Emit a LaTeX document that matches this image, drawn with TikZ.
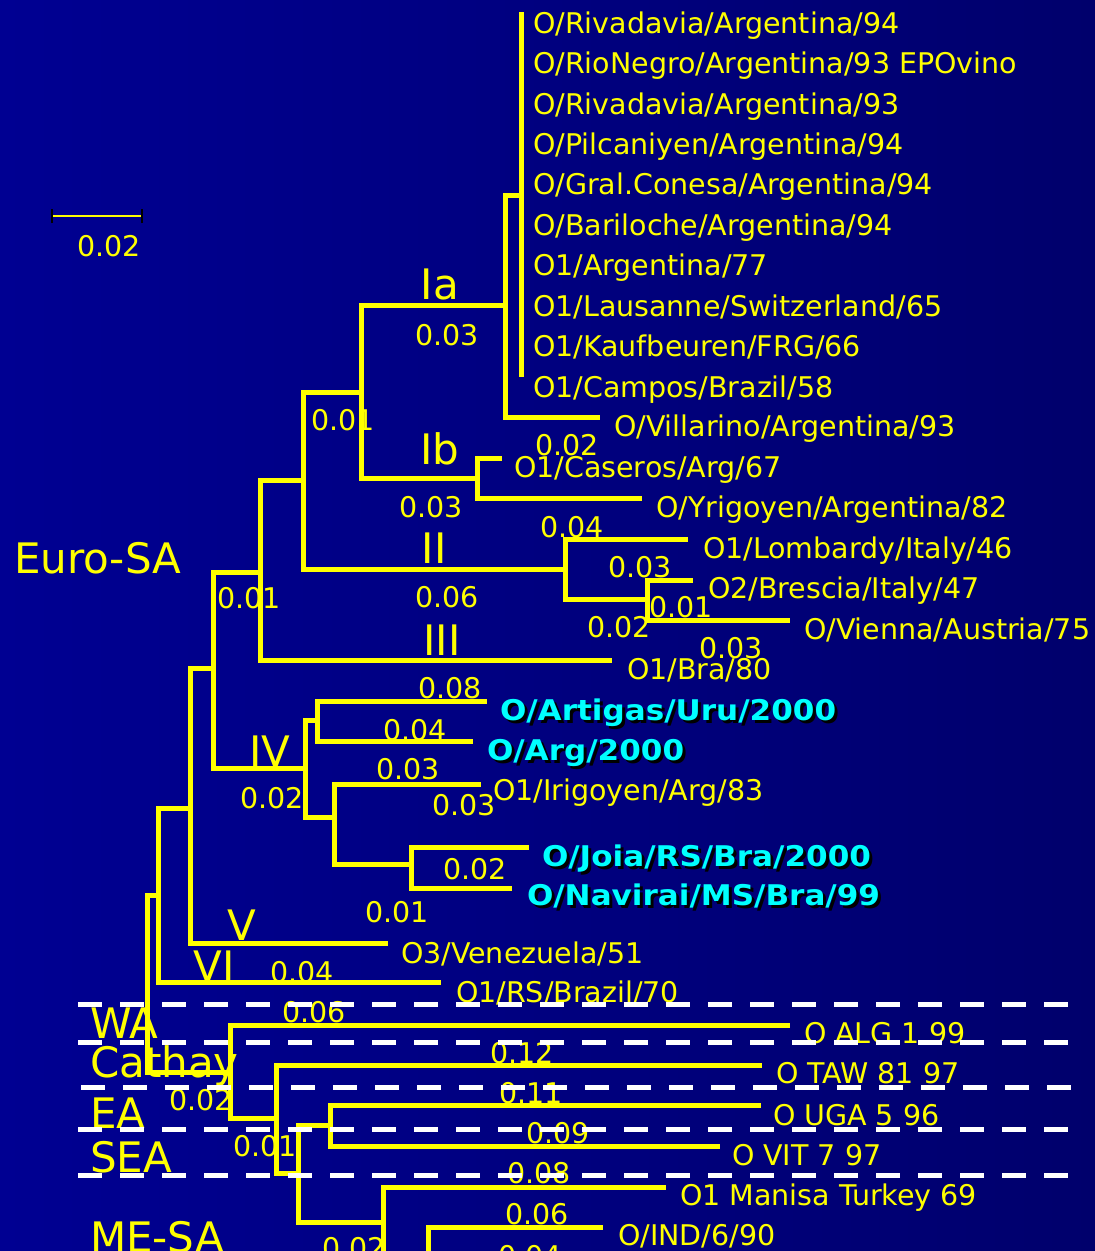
\documentclass[tikz,border=0pt]{standalone}
\usepackage{fontspec}
\setmainfont{DejaVu Sans}
\newfontfamily\boldcy{DejaVu Sans}[FakeStretch=1.09]
\definecolor{yel}{RGB}{255,255,0}
\definecolor{cy}{RGB}{0,255,255}
\definecolor{bgl}{RGB}{0,0,146}
\definecolor{bgr}{RGB}{0,0,108}
\newcommand\taxfont{\fontsize{28.5}{30}\selectfont}
\newcommand\cladefont{\fontsize{42}{44}\selectfont}
\newcommand\cyshad[1]{{\boldcy\bfseries\rlap{\kern3pt\raisebox{-3pt}{\textcolor{black}{#1}}}\textcolor{cy}{#1}}}
\tikzset{
  br/.style={draw=yel, line width=5pt, line join=miter},
  tax/.style={anchor=base west, inner sep=0pt, outer sep=0pt, text=yel, font=\taxfont},
  ctax/.style={anchor=base west, inner sep=0pt, outer sep=0pt, font=\taxfont},
  num/.style={anchor=base, inner sep=0pt, outer sep=0pt, text=yel, font=\taxfont},
  clade/.style={anchor=base, inner sep=0pt, outer sep=0pt, text=yel, font=\cladefont},
  region/.style={anchor=base west, inner sep=0pt, outer sep=0pt, text=yel, font=\cladefont},
  wdash/.style={draw=white, line width=5pt, dash pattern=on 24pt off 18pt},
}
\begin{document}
\begin{tikzpicture}[x=1pt,y=-1pt]
\useasboundingbox (0,0) rectangle (1095,1251);
\shade[left color=bgl, right color=bgr] (0,0) rectangle (1095,1251);
\clip (0,0) rectangle (1095,1251);

% internal nodes
\coordinate (R) at (147,983);
\coordinate (E1) at (158,895);
\coordinate (E2) at (190,808);
\coordinate (E3) at (213,668);
\coordinate (E4) at (260,572);
\coordinate (E5) at (303,480);
\coordinate (E6) at (361,392);
\coordinate (Ia) at (505,305);
\coordinate (Pol) at (521,195);
\coordinate (PolT) at (521,12);
\coordinate (PolB) at (521,377);
\coordinate (Ib) at (477,478);
\coordinate (II) at (565,569);
\coordinate (IIb) at (647,599);
\coordinate (IV) at (305,768);
\coordinate (IVa) at (317,720);
\coordinate (IVb) at (334,817);
\coordinate (IVc) at (411,864);
\coordinate (A1) at (230,1072);
\coordinate (A2) at (276,1118);
\coordinate (A3) at (298,1173);
\coordinate (A4) at (330,1125);
\coordinate (A5) at (383,1222);
\coordinate (A6) at (428,1290);
% tips
\coordinate (tVil) at (600,417);
\coordinate (tCas) at (502,458);
\coordinate (tYri) at (642,498);
\coordinate (tLom) at (688,539);
\coordinate (tBre) at (693,580);
\coordinate (tVie) at (790,620);
\coordinate (tBra) at (612,660);
\coordinate (tArt) at (487,701);
\coordinate (tArg) at (473,741);
\coordinate (tIri) at (481,784);
\coordinate (tJoi) at (529,847);
\coordinate (tNav) at (512,888);
\coordinate (tVen) at (388,943);
\coordinate (tRS) at (441,982);
\coordinate (tALG) at (790,1025);
\coordinate (tTAW) at (762,1065);
\coordinate (tUGA) at (761,1105);
\coordinate (tVIT) at (720,1146);
\coordinate (tMan) at (666,1187);
\coordinate (tIND) at (603,1227);
\coordinate (tLow) at (520,1300);

% branches
\draw[br] (R) |- (E1);  \draw[br] (R) |- (A1);
\draw[br] (E1) |- (E2); \draw[br] (E1) |- (tRS);
\draw[br] (E2) |- (E3); \draw[br] (E2) |- (tVen);
\draw[br] (E3) |- (E4); \draw[br] (E3) |- (IV);
\draw[br] (E4) |- (E5); \draw[br] (E4) |- (tBra);
\draw[br] (E5) |- (E6); \draw[br] (E5) |- (II);
\draw[br] (E6) |- (Ia); \draw[br] (E6) |- (Ib);
\draw[br] (Ia) |- (Pol); \draw[br] (Ia) |- (tVil);
\draw[br] (PolT) -- (PolB);
\draw[br] (Ib) |- (tCas); \draw[br] (Ib) |- (tYri);
\draw[br] (II) |- (tLom); \draw[br] (II) |- (IIb);
\draw[br] (IIb) |- (tBre); \draw[br] (IIb) |- (tVie);
\draw[br] (IV) |- (IVa); \draw[br] (IV) |- (IVb);
\draw[br] (IVa) |- (tArt); \draw[br] (IVa) |- (tArg);
\draw[br] (IVb) |- (tIri); \draw[br] (IVb) |- (IVc);
\draw[br] (IVc) |- (tJoi); \draw[br] (IVc) |- (tNav);
\draw[br] (A1) |- (tALG); \draw[br] (A1) |- (A2);
\draw[br] (A2) |- (tTAW); \draw[br] (A2) |- (A3);
\draw[br] (A3) |- (A4); \draw[br] (A3) |- (A5);
\draw[br] (A4) |- (tUGA); \draw[br] (A4) |- (tVIT);
\draw[br] (A5) |- (tMan); \draw[br] (A5) |- (A6);
\draw[br] (A6) |- (tIND); \draw[br] (A6) |- (tLow);

% scale bar
\coordinate (sb1) at (52,216);
\coordinate (sb2) at (142,216);
\draw[yel, line width=2pt] (sb1) -- (sb2);
\draw[black, line width=1.2pt] ([yshift=-7pt]sb1) -- ([yshift=7pt]sb1);
\draw[black, line width=1.2pt] ([yshift=-7pt]sb2) -- ([yshift=7pt]sb2);
\node[num] (sbl) at (109,256) {0.02};

% taxa
\node[tax] (x1) at (533,33) {O/Rivadavia/Argentina/94};
\node[tax] (x2) at (533,73) {O/RioNegro/Argentina/93 EPOvino};
\node[tax] (x3) at (533,114) {O/Rivadavia/Argentina/93};
\node[tax] (x4) at (533,154) {O/Pilcaniyen/Argentina/94};
\node[tax] (x5) at (533,194) {O/Gral.Conesa/Argentina/94};
\node[tax] (x6) at (533,235) {O/Bariloche/Argentina/94};
\node[tax] (x7) at (533,275) {O1/Argentina/77};
\node[tax] (x8) at (533,316) {O1/Lausanne/Switzerland/65};
\node[tax] (x9) at (533,356) {O1/Kaufbeuren/FRG/66};
\node[tax] (x10) at (533,397) {O1/Campos/Brazil/58};
\node[tax] (x11) at (614,436) {O/Villarino/Argentina/93};
\node[tax] (x12) at (514,477) {O1/Caseros/Arg/67};
\node[tax] (x13) at (656,517) {O/Yrigoyen/Argentina/82};
\node[tax] (x14) at (703,558) {O1/Lombardy/Italy/46};
\node[tax] (x15) at (708,598) {O2/Brescia/Italy/47};
\node[tax] (x16) at (804,639) {O/Vienna/Austria/75};
\node[tax] (x17) at (627,679) {O1/Bra/80};
\node[ctax] (x18) at (500,720) {\cyshad{O/Artigas/Uru/2000}};
\node[ctax] (x19) at (487,760) {\cyshad{O/Arg/2000}};
\node[tax] (x20) at (493,800) {O1/Irigoyen/Arg/83};
\node[ctax] (x21) at (542,866) {\cyshad{O/Joia/RS/Bra/2000}};
\node[ctax] (x22) at (527,905) {\cyshad{O/Navirai/MS/Bra/99}};
\node[tax] (x23) at (401,963) {O3/Venezuela/51};
\node[tax] (x24) at (456,1002) {O1/RS/Brazil/70};
\node[tax] (x25) at (804,1043) {O ALG 1 99};
\node[tax] (x26) at (776,1083) {O TAW 81 97};
\node[tax] (x27) at (773,1125) {O UGA 5 96};
\node[tax] (x28) at (732,1165) {O VIT 7 97};
\node[tax] (x29) at (680,1205) {O1 Manisa Turkey 69};
\node[tax] (x30) at (618,1245) {O/IND/6/90};

% clade labels
\node[clade] (cIa) at (440,299) {Ia};
\node[clade] (cIb) at (440,464) {Ib};
\node[clade] (cII) at (434,563) {II};
\node[clade] (cIII) at (442,655) {III};
\node[clade] (cIV) at (270,766) {IV};
\node[clade] (cV) at (242,940) {V};
\node[clade] (cVI) at (214,981) {VI};

% branch lengths
\node[num] (b1) at (447,345) {0.03};
\node[num] (b2) at (343,430) {0.01};
\node[num] (b3) at (567,455) {0.02};
\node[num] (b4) at (431,517) {0.03};
\node[num] (b5) at (572,537) {0.04};
\node[num] (b6) at (640,577) {0.03};
\node[num] (b7) at (249,608) {0.01};
\node[num] (b8) at (447,607) {0.06};
\node[num] (b9) at (681,617) {0.01};
\node[num] (b10) at (619,637) {0.02};
\node[num] (b11) at (731,658) {0.03};
\node[num] (b12) at (450,698) {0.08};
\node[num] (b13) at (415,740) {0.04};
\node[num] (b14) at (408,779) {0.03};
\node[num] (b15) at (272,808) {0.02};
\node[num] (b16) at (464,815) {0.03};
\node[num] (b17) at (475,879) {0.02};
\node[num] (b18) at (397,922) {0.01};
\node[num] (b19) at (302,982) {0.04};
\node[num] (b20) at (314,1022) {0.06};
\node[num] (b21) at (522,1063) {0.12};
\node[num] (b22) at (531,1103) {0.11};
\node[num] (b23) at (201,1110) {0.02};
\node[num] (b24) at (558,1143) {0.09};
\node[num] (b25) at (265,1156) {0.01};
\node[num] (b26) at (539,1183) {0.08};
\node[num] (b27) at (537,1224) {0.06};
\node[num] (b28) at (530,1266) {0.04};
\node[num] (b29) at (354,1258) {0.02};

% region labels
\node[region] (rEuro) at (14,573) {Euro-SA};
\node[region] (rWA) at (90,1038) {WA};
\node[region] (rCat) at (90,1077) {Cathay};
\node[region] (rEA) at (90,1128) {EA};
\node[region] (rSEA) at (90,1172) {SEA};
\node[region] (rME) at (90,1252) {ME-SA};

% dashed region separators
\coordinate (d1a) at (78,1004); \coordinate (d1b) at (1070,1004);
\coordinate (d2a) at (78,1042); \coordinate (d2b) at (1070,1042);
\coordinate (d3a) at (81,1087); \coordinate (d3b) at (1073,1087);
\coordinate (d4a) at (78,1129); \coordinate (d4b) at (1070,1129);
\coordinate (d5a) at (78,1175); \coordinate (d5b) at (1070,1175);
\draw[wdash] (d1a) -- (d1b);
\draw[wdash] (d2a) -- (d2b);
\draw[wdash] (d3a) -- (d3b);
\draw[wdash] (d4a) -- (d4b);
\draw[wdash] (d5a) -- (d5b);
\end{tikzpicture}
\end{document}
